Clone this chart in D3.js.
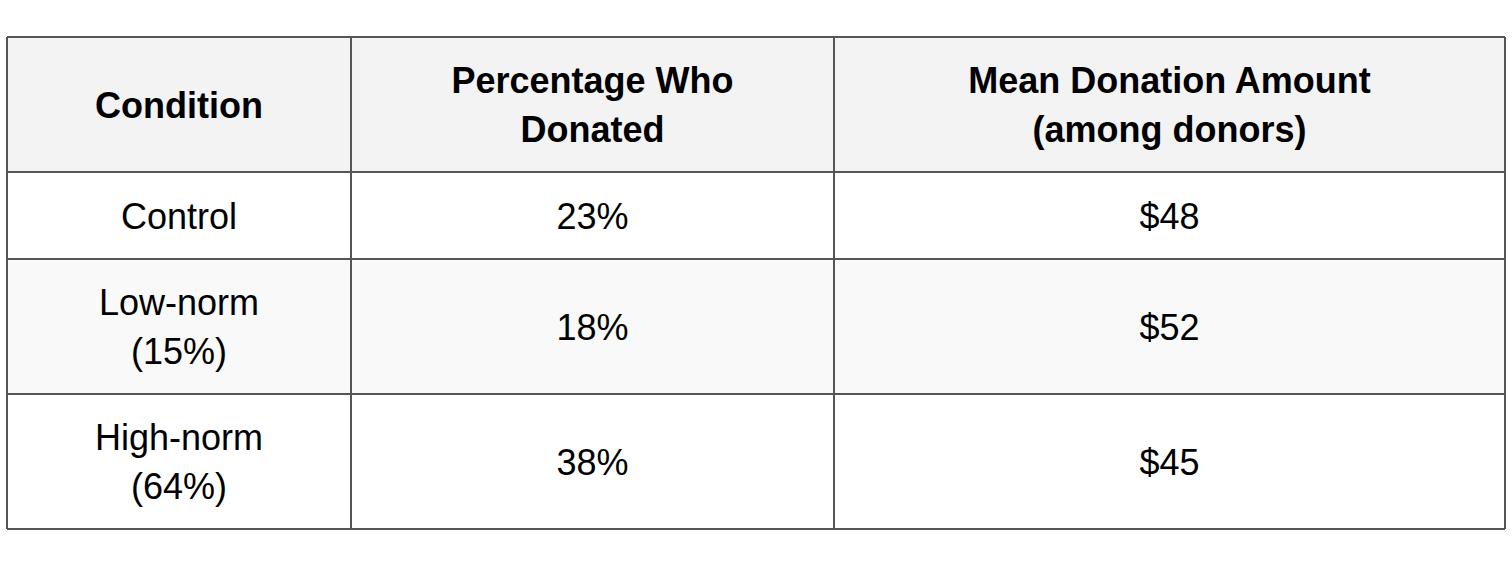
<!DOCTYPE html>
<html><head><meta charset="utf-8">
<script src="https://cdn.jsdelivr.net/npm/d3@7"></script>
<style>body{margin:0;background:#fff}</style>
</head><body><div id="viz"></div>
<script>
const headers = [["Condition"], ["Percentage Who", "Donated"], ["Mean Donation Amount", "(among donors)"]];
const conditions = [["Control"], ["Low-norm", "(15%)"], ["High-norm", "(64%)"]];
const pctDonated = ["23%", "18%", "38%"];
const meanDonation = ["$48", "$52", "$45"];

const colEdges = [7, 351, 834, 1505];
const rowEdges = [37, 172, 259, 394, 529];
const rowFill = ["#f3f3f3", "#ffffff", "#f9f9f9", "#ffffff"];

const svg = d3.select("#viz").append("svg").attr("width", 1512).attr("height", 567)
  .style("font-family", "'Liberation Sans', Arial, sans-serif");

const rows = [headers].concat(conditions.map((c, i) => [c, [pctDonated[i]], [meanDonation[i]]]));

const g = svg.selectAll("g.row").data(rows).join("g").attr("class", "row");
g.append("rect")
  .attr("x", colEdges[0]).attr("width", colEdges[3] - colEdges[0])
  .attr("y", (d, i) => rowEdges[i]).attr("height", (d, i) => rowEdges[i + 1] - rowEdges[i])
  .attr("fill", (d, i) => rowFill[i]);

g.each(function (row, ri) {
  const cy = (rowEdges[ri] + rowEdges[ri + 1]) / 2;
  row.forEach((lines, ci) => {
    const cx = (colEdges[ci] + colEdges[ci + 1]) / 2;
    const lh = 49;
    const t = d3.select(this).append("text")
      .attr("text-anchor", "middle").attr("font-size", 36)
      .attr("font-weight", ri === 0 ? "bold" : "normal").attr("fill", "#000");
    lines.forEach((s, k) => {
      t.append("tspan").attr("x", cx)
        .attr("y", cy + (k - (lines.length - 1) / 2) * lh + 13).text(s);
    });
  });
});

const stroke = "#555";
svg.selectAll("line.h").data(rowEdges).join("line")
  .attr("x1", colEdges[0]).attr("x2", colEdges[3]).attr("y1", d => d).attr("y2", d => d)
  .attr("stroke", stroke).attr("stroke-width", 2);
svg.selectAll("line.v").data(colEdges).join("line")
  .attr("y1", rowEdges[0]).attr("y2", rowEdges[4]).attr("x1", d => d).attr("x2", d => d)
  .attr("stroke", stroke).attr("stroke-width", 2);
</script></body></html>
